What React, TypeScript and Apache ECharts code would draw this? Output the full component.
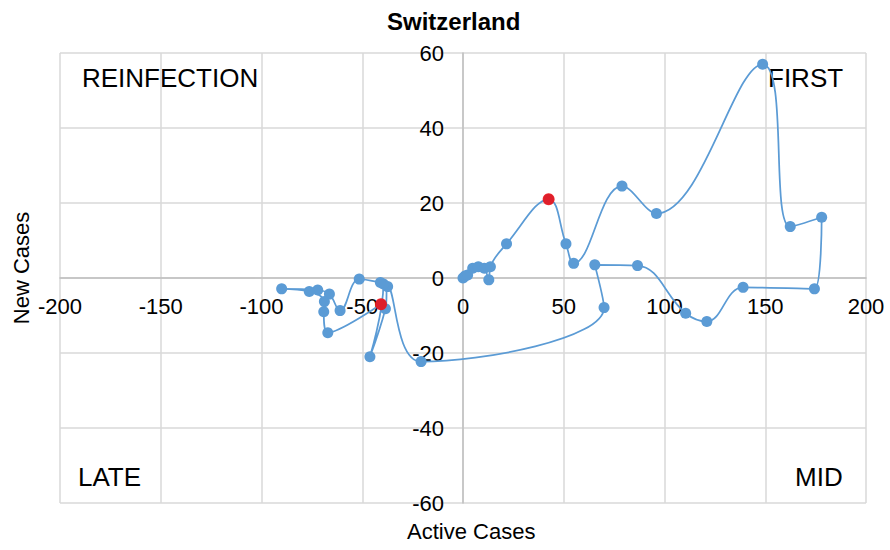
import React, { useEffect, useRef } from "react";
import * as echarts from "echarts";

const activeCases = [
  0, 1, 2.3, 4.8, 7.6, 10.6, 12.8, 13.6, 21.6, 42.5, 51.1, 54.9, 78.9, 96, 148.7, 162.4, 178, 174.4, 139, 121,
  110.5, 86.6, 65.4, 70, -20.8, -37.4, -38.5, -46.2, -39.5, -41, -51.5, -61, -66.3, -72.1, -90, -76.3, -68.8,
  -69.1, -67.1, -40.7,
];
const newCases = [
  0, 0.5, 0.8, 2.6, 3, 2.6, -0.5, 3, 9.1, 21, 9.1, 3.9, 24.5, 17.2, 57, 13.7, 16.2, -2.9, -2.5, -11.6, -9.4,
  3.3, 3.5, -7.9, -22.3, -2.3, -8.2, -21, -1.6, -1.2, -0.3, -8.7, -4.3, -3.2, -2.9, -3.6, -6.3, -9, -14.6, -7,
];
const highlightX = [42.5, -40.7];
const highlightY = [21, -7];

const quadrantNames = ["REINFECTION", "FIRST", "LATE", "MID"];
const xTicks = { min: -200, max: 200, interval: 50 };
const yTicks = { min: -60, max: 60, interval: 20 };

const FONT = "'Liberation Sans', Arial, sans-serif";

const GRID = { left: 60, right: 24, top: 53, bottom: 47 };
const W = 890;
const H = 550;

export default function App() {
  const ref = useRef<HTMLDivElement>(null);
  useEffect(() => {
    if (!ref.current) return;
    const chart = echarts.init(ref.current, null, { renderer: "svg" });
    const lineData = activeCases.map((x, i) => [x, newCases[i]]);
    const redData = highlightX.map((x, i) => [x, highlightY[i]]);
    const qStyle = { fontSize: 26, fill: "#000", fontFamily: FONT };
    const gridW = W - GRID.left - GRID.right;
    const gridH = H - GRID.top - GRID.bottom;
    // axes cross at zero: shift each axis (with its labels) to the middle of the plot
    const xOffset = -gridH * (0 - yTicks.min) / (yTicks.max - yTicks.min);
    const yOffset = -gridW * (0 - xTicks.min) / (xTicks.max - xTicks.min);
    chart.setOption({
      animation: false,
      backgroundColor: "#fff",
      textStyle: { fontFamily: FONT },
      title: {
        text: "Switzerland",
        left: 382,
        top: 4,
        textStyle: { fontSize: 24, fontWeight: "bold", color: "#000", fontFamily: FONT },
      },
      grid: GRID,
      xAxis: {
        type: "value",
        min: xTicks.min,
        max: xTicks.max,
        interval: xTicks.interval,
        position: "bottom",
        offset: xOffset,
        axisLine: { show: true, onZero: false, lineStyle: { color: "#BFBFBF", width: 1.5 } },
        axisTick: { show: false },
        axisLabel: { fontSize: 22, color: "#000", margin: 17, fontFamily: FONT },
        splitLine: { show: true, lineStyle: { color: "#D9D9D9", width: 1.5 } },
      },
      yAxis: {
        type: "value",
        min: yTicks.min,
        max: yTicks.max,
        interval: yTicks.interval,
        position: "left",
        offset: yOffset,
        axisLine: { show: true, onZero: false, lineStyle: { color: "#BFBFBF", width: 1.5 } },
        axisTick: { show: false },
        axisLabel: { fontSize: 22, color: "#000", margin: 19, fontFamily: FONT },
        splitLine: { show: true, lineStyle: { color: "#D9D9D9", width: 1.5 } },
      },
      graphic: [
        { type: "text", left: 82, top: 65, style: { text: quadrantNames[0], ...qStyle } },
        { type: "text", left: 768, top: 65, style: { text: quadrantNames[1], ...qStyle } },
        { type: "text", left: 78, top: 464, style: { text: quadrantNames[2], ...qStyle } },
        { type: "text", left: 795, top: 464, style: { text: quadrantNames[3], ...qStyle } },
        {
          type: "text",
          left: 407,
          top: 520,
          style: { text: "Active Cases", fontSize: 22, fill: "#000", fontFamily: FONT },
        },
        {
          type: "text",
          x: 10,
          y: 268,
          rotation: Math.PI / 2,
          style: {
            text: "New Cases",
            fontSize: 22,
            fill: "#000",
            fontFamily: FONT,
            align: "center",
            verticalAlign: "top",
          },
        },
      ],
      series: [
        {
          type: "line",
          data: lineData,
          smooth: 0.4,
          symbol: "circle",
          symbolSize: 11,
          itemStyle: { color: "#5B9BD5" },
          lineStyle: { color: "#5B9BD5", width: 1.75 },
          z: 2,
        },
        {
          type: "scatter",
          data: redData,
          symbol: "circle",
          symbolSize: 12,
          itemStyle: { color: "#FF0000" },
          z: 3,
        },
      ],
    });
    return () => chart.dispose();
  }, []);
  return <div ref={ref} style={{ width: W, height: H, position: "absolute", left: 0, top: 0 }} />;
}
